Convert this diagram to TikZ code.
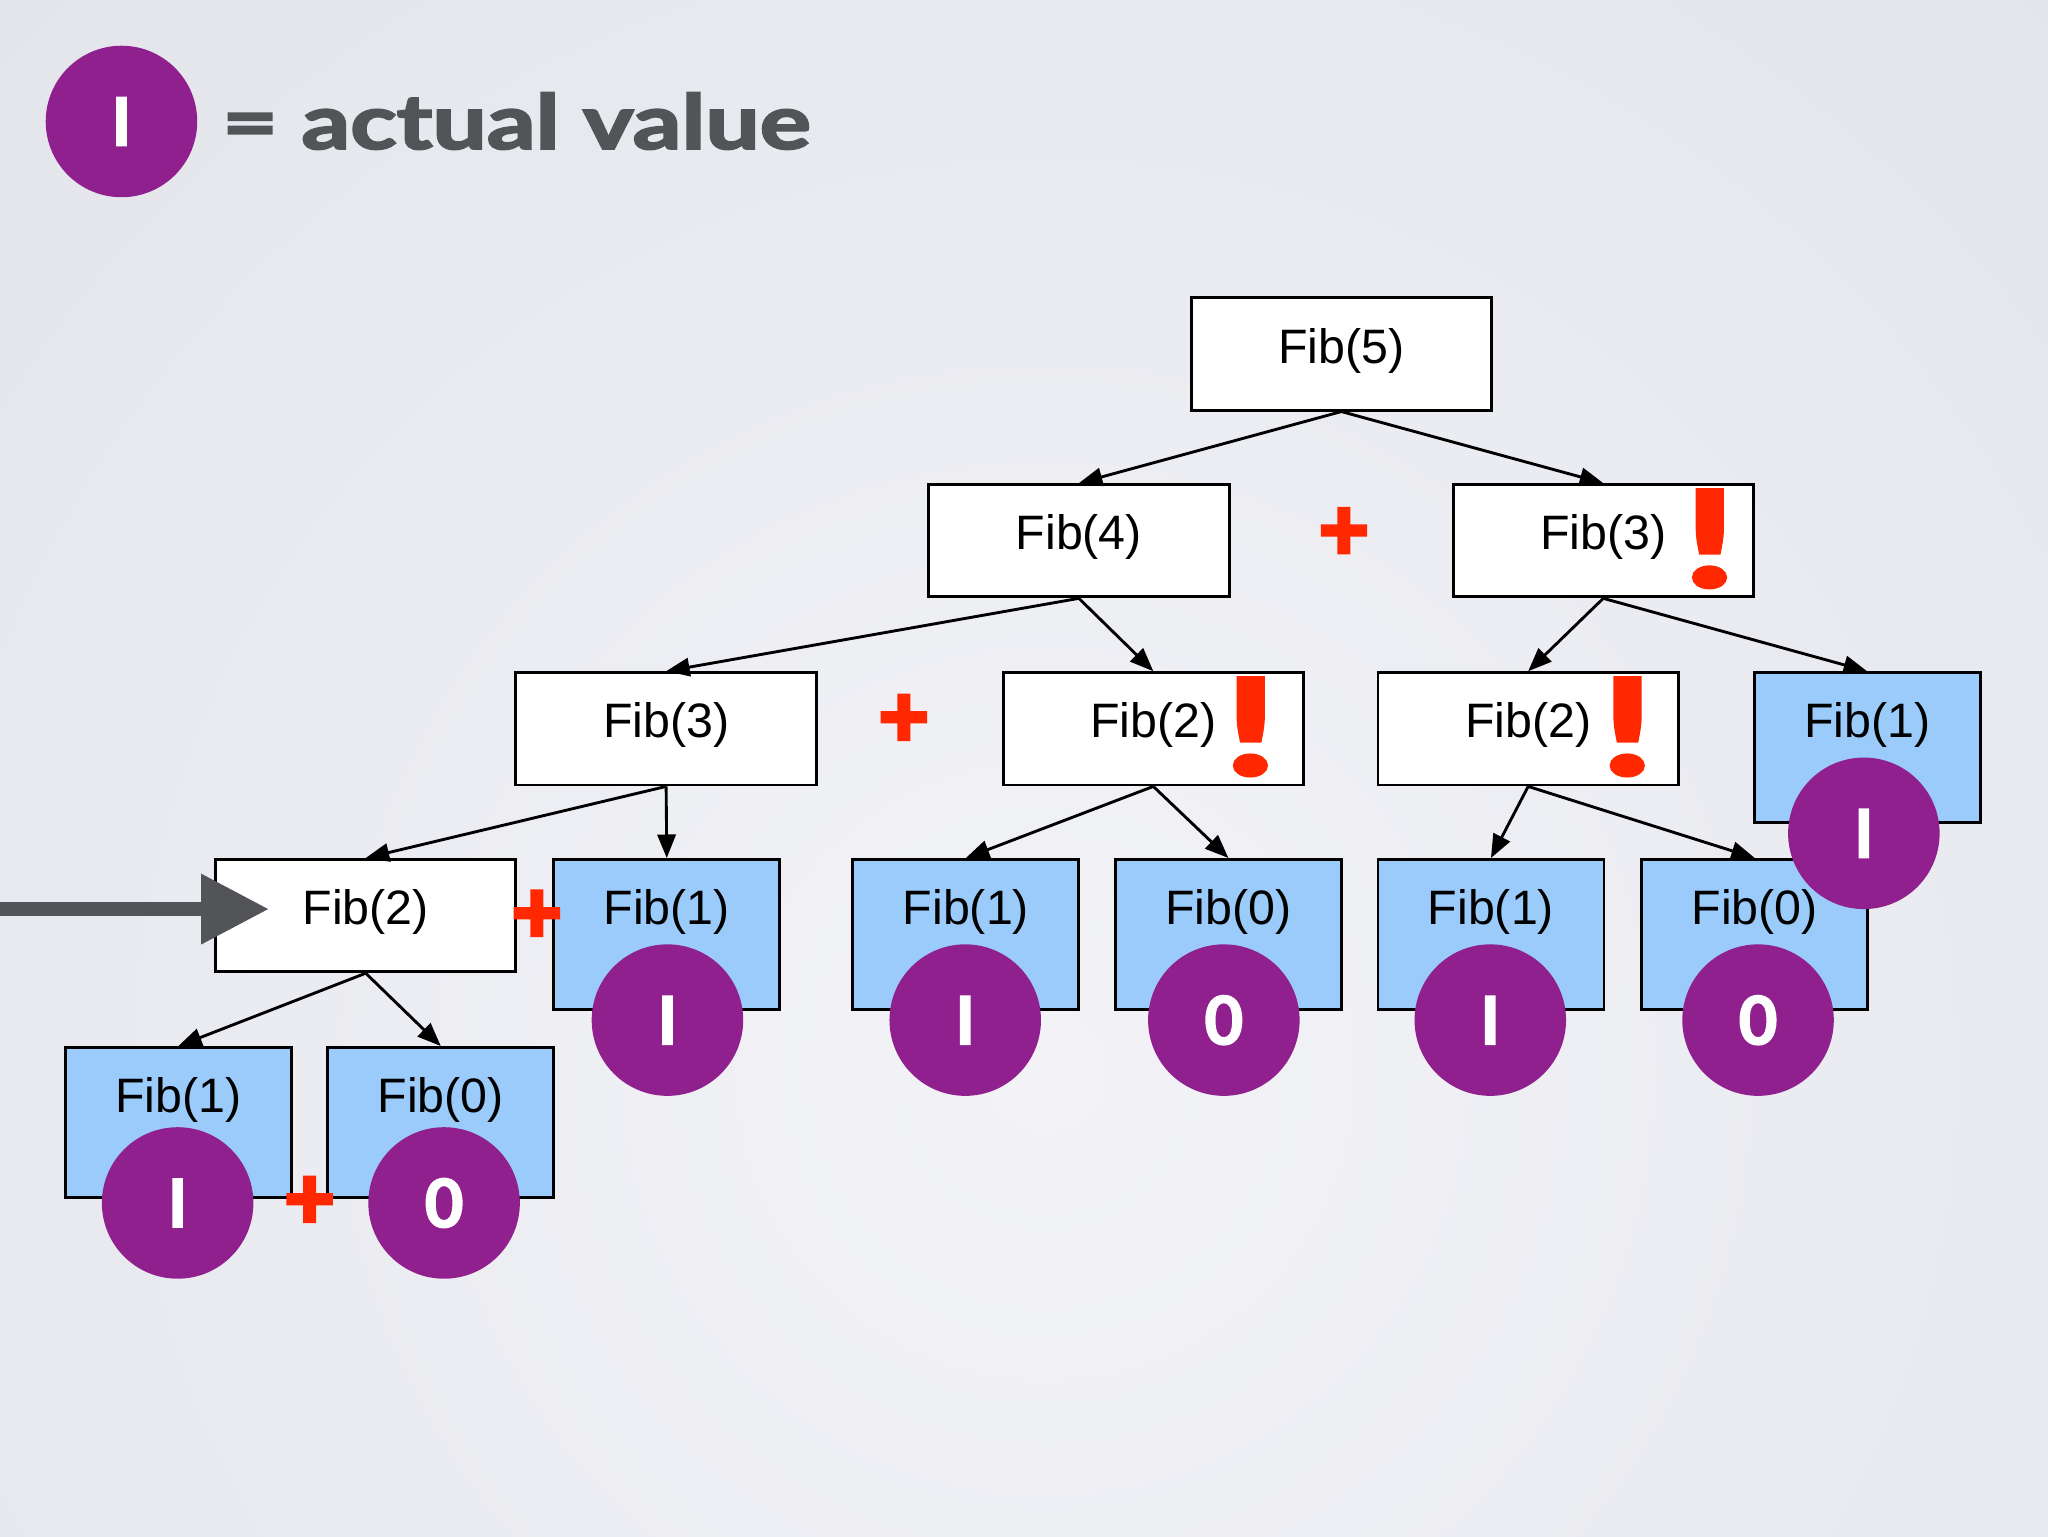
\documentclass[tikz,border=0pt]{standalone}
\usepackage{fontspec}
\setmainfont{Liberation Sans}
\newfontfamily\gill{Lato}[BoldFeatures={FakeBold=2.5}]
\newfontfamily\gillheavy{Lato}[UprightFont=*-Bold, FakeBold=5]
\newfontfamily\bangfont{Lato}[UprightFont=*-Bold, FakeBold=3]
\usetikzlibrary{arrows.meta}
\definecolor{bgin}{HTML}{F3F3F7}
\definecolor{bgout}{HTML}{D3D7DF}
\definecolor{boxblue}{HTML}{9ACBFA}
\definecolor{purp}{RGB}{145,32,143}
\definecolor{exred}{RGB}{255,40,0}
\definecolor{slategray}{HTML}{535457}
\tikzset{
  fibbox/.style={draw=black, line width=2.2pt, fill=white, minimum width=230pt,
    minimum height=86pt, inner sep=0pt, text height=30pt, text depth=16pt,
    font=\fontsize{37}{40}\selectfont},
  basebox/.style={fibbox, fill=boxblue, minimum width=173pt, minimum height=115pt,
    text height=10pt, text depth=25pt},
  valcircle/.style={circle, fill=purp, minimum size=116pt, inner sep=0pt, text=white,
    font=\gill\bfseries\fontsize{51}{51}\selectfont, text height=37pt, text depth=0pt},
  callarrow/.style={draw=black, line width=2.2pt, -{Triangle[length=18pt,width=14pt]}},
  plusmark/.style={text=exred, inner sep=0pt, font=\gillheavy\fontsize{66}{66}\selectfont},
  bangmark/.style={text=exred, inner sep=0pt, font=\bangfont\fontsize{102}{102}\selectfont},
}
\begin{document}
\begin{tikzpicture}[x=1pt,y=-1pt]
% background
\fill[bgout] (0,0) rectangle (1568,1176);
\begin{scope}
\clip (0,0) rectangle (1568,1176);
\shade[inner color=bgin, outer color=bgout] (800,820) circle (2300);
\end{scope}

% legend
\node[valcircle] (legendval) at (93,93) {I};
\node[anchor=base west, inner sep=0pt, text=slategray,
  font=\gill\bfseries\fontsize{58}{58}\selectfont] (legendtext) at (170,114) {\scalebox{1.27}[1]{= actual value}};

% tree nodes
\node[fibbox] (f5) at (1027,271) {Fib(5)};
\node[fibbox] (f4) at (826,414) {Fib(4)};
\node[fibbox] (f3a) at (1227.5,414) {Fib(3)};
\node[fibbox] (f3b) at (510,558) {Fib(3)};
\node[fibbox] (f2a) at (883,558) {Fib(2)};
\node[fibbox] (f2b) at (1170,558) {Fib(2)};
\node[fibbox] (f2c) at (280,701) {Fib(2)};
\node[basebox] (f1a) at (1429.5,572.5) {Fib(1)};
\node[basebox] (f1b) at (510.5,715.5) {Fib(1)};
\node[basebox] (f1c) at (739.5,715.5) {Fib(1)};
\node[basebox] (f0a) at (940.5,715.5) {Fib(0)};
\node[basebox] (f1d) at (1141.5,715.5) {Fib(1)};
\node[basebox] (f0b) at (1343.5,715.5) {Fib(0)};
\node[basebox] (f1e) at (136.5,859.5) {Fib(1)};
\node[basebox] (f0c) at (337.5,859.5) {Fib(0)};

% calls
\draw[callarrow] (f5.south) -- (f4.north);
\draw[callarrow] (f5.south) -- (f3a.north);
\draw[callarrow] (f4.south) -- (f3b.north);
\draw[callarrow] (f4.south) -- (f2a.north);
\draw[callarrow] (f3a.south) -- (f2b.north);
\draw[callarrow] (f3a.south) -- (f1a.north);
\draw[callarrow] (f3b.south) -- (f2c.north);
\draw[callarrow] (f3b.south) -- (f1b.north);
\draw[callarrow] (f2a.south) -- (f1c.north);
\draw[callarrow] (f2a.south) -- (f0a.north);
\draw[callarrow] (f2b.south) -- (f1d.north);
\draw[callarrow] (f2b.south) -- (f0b.north);
\draw[callarrow] (f2c.south) -- (f1e.north);
\draw[callarrow] (f2c.south) -- (f0c.north);

% values
\node[valcircle] (v1a) at (1427,638) {I};
\node[valcircle] (v1b) at (511,781) {I};
\node[valcircle] (v1c) at (739,781) {I};
\node[valcircle] (v0a) at (937,781) {0};
\node[valcircle] (v1d) at (1141,781) {I};
\node[valcircle] (v0b) at (1346,781) {0};
\node[valcircle] (v1e) at (136,921) {I};
\node[valcircle] (v0c) at (340,921) {0};

% plus signs
\node[plusmark] (p1) at (1029,409) {+};
\node[plusmark] (p2) at (692,552) {+};
\node[plusmark] (p3) at (411,702) {+};
\node[plusmark] (p4) at (237,921) {+};

% exclamation marks
\node[bangmark] (b1) at (1309,412.5) {\scalebox{1.45}[1]{!}};
\node[bangmark] (b2) at (957.5,556.5) {\scalebox{1.45}[1]{!}};
\node[bangmark] (b3) at (1246,556.5) {\scalebox{1.45}[1]{!}};

% pointer arrow
\coordinate (ptrtail) at (-5,696);
\coordinate (ptrtip) at (206,696);
\draw[slategray, line width=11pt, -{Triangle[length=52pt,width=51pt]}] (ptrtail) -- (ptrtip);

\pgfresetboundingbox
\path[use as bounding box] (0,0) rectangle (1568,1176);
\end{tikzpicture}
\end{document}
